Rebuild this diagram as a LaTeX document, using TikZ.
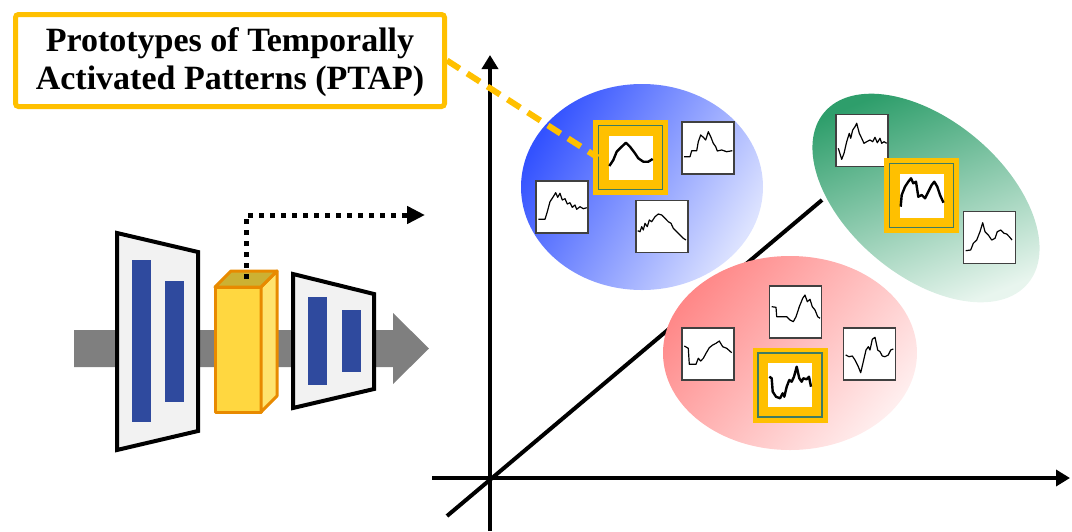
\documentclass[tikz,border=0pt]{standalone}
\usepackage{fontspec}
\setmainfont{Liberation Serif}
\usetikzlibrary{arrows.meta}

\definecolor{ptapyellow}{HTML}{FFC000}
\definecolor{barblue}{HTML}{2F4A9E}
\definecolor{flowgray}{HTML}{7F7F7F}
\definecolor{blockfill}{HTML}{F2F2F2}
\definecolor{cubefront}{HTML}{FFD740}
\definecolor{cubeside}{HTML}{FFE36E}
\definecolor{cubetopc}{HTML}{CCB133}
\definecolor{cubeedge}{HTML}{E88A00}
\definecolor{protogreen}{HTML}{3E7B63}
\definecolor{thumbedge}{HTML}{404040}
\definecolor{bluedark}{HTML}{3352FF}
\definecolor{bluelight}{HTML}{DDE3FF}
\definecolor{greendark}{HTML}{2E9E6B}
\definecolor{greenlight}{HTML}{E8F5EE}
\definecolor{reddark}{HTML}{FF8888}
\definecolor{redlight}{HTML}{FFEEEE}

\begin{document}
\begin{tikzpicture}[x=1pt,y=-1pt,
  axis/.style={line width=4pt, black},
  axisarrow/.style={axis, -{Triangle[length=14pt,width=16pt]}},
  block/.style={line width=4pt, draw=black, fill=blockfill, line join=miter},
  bar/.style={fill=barblue},
  cubeface/.style={draw=cubeedge, line width=3pt, line join=round},
  thumb/.style={draw=thumbedge, line width=1.4pt, fill=white, minimum size=52pt, inner sep=0pt},
  proto/.style={fill=ptapyellow, minimum size=75pt, inner sep=0pt,
    path picture={
      \draw[protogreen, line width=1.6pt]
        ([shift={(-32,-32)}]path picture bounding box.center) rectangle +(64,64);
      \fill[white]
        ([shift={(-22,-22)}]path picture bounding box.center) rectangle +(44,44);
    }},
  wave/.style={line width=1.2pt, black, line join=round},
  wavebold/.style={line width=2.4pt, black, line join=round},
  titlebox/.style={draw=ptapyellow, line width=5pt, fill=white, rounded corners=3pt,
    minimum width=429pt, minimum height=92pt, inner sep=0pt},
  titletext/.style={inner sep=0pt, align=center,
    font=\fontsize{34}{38}\selectfont\bfseries},
  callout/.style={draw=ptapyellow, line width=6pt, dash pattern=on 15pt off 9pt},
  featarrow/.style={line width=5pt, dash pattern=on 5pt off 6pt,
    -{Triangle[length=18pt,width=17pt]}}
]
\useasboundingbox (0,0) rectangle (1072,531);

% ---------- encoder / feature / decoder ----------
\fill[flowgray] (74,330) -- (393,330) -- (393,313) -- (429,348.5) -- (393,384)
  -- (393,367) -- (74,367) -- cycle;

\draw[block] (117,233) -- (198,252) -- (198,431) -- (117,450) -- cycle;
\fill[bar] (132,260) rectangle (151,422);
\fill[bar] (165,281) rectangle (184,402);

\draw[block] (293,274) -- (374,294) -- (374,389) -- (293,408) -- cycle;
\fill[bar] (308,297) rectangle (327,385);
\fill[bar] (342,310) rectangle (361,372);

% feature cube
\filldraw[cubeface, fill=cubefront] (215,287) rectangle (261,412);
\filldraw[cubeface, fill=cubeside] (261,287) -- (277,271) -- (277,396) -- (261,412) -- cycle;
\filldraw[cubeface, fill=cubetopc] (215,287) -- (231,271) -- (277,271) -- (261,287) -- cycle;

\coordinate (cubetop) at (246,279);
\coordinate (featout) at (425,215);
\draw[featarrow] (cubetop) |- (featout);

% ---------- embedding space ----------
\coordinate (origin) at (490,478);
\coordinate (ytop) at (490,55);
\coordinate (ybot) at (490,531);
\coordinate (xleft) at (432,478);
\coordinate (xright) at (1070,478);
\coordinate (zlow) at (447,516);
\coordinate (zhigh) at (822,200);

\draw[axis] (zlow) -- (zhigh);
\draw[axisarrow] (ybot) -- (ytop);
\draw[axisarrow] (xleft) -- (xright);

% clusters
\shade[top color=bluedark, bottom color=bluelight, shading angle=60]
  (642,187) ellipse [x radius=121, y radius=103];
\shade[top color=reddark, bottom color=redlight, shading angle=50]
  (790,353) ellipse [x radius=127, y radius=97];
\shade[top color=greendark, bottom color=greenlight, shading angle=22]
  (926,198) ellipse [x radius=133, y radius=78, rotate=-40];

% ---------- blue cluster ----------
\node[thumb] (b1) at (562,207) {};
\node[thumb] (b2) at (708,148) {};
\node[thumb] (b3) at (662,226.5) {};
\node[proto] (bp) at (630.5,157.5) {};
\draw[wave] plot coordinates {(538.3,219.3) (545,219.3) (547.3,211.7) (550,201.7) (553.3,196.7)
  (555.7,192.7) (557.7,197.3) (560,193.3) (562.3,200) (565,198.7) (567.3,204) (570,202.7)
  (572.3,207.3) (575,205) (576.7,209.3) (580,206.7) (583.3,208.7) (586.7,207.7)};
\draw[wave] plot coordinates {(684,156.7) (690,156.7) (691.7,150.7) (696.7,150.7) (698.3,141.7)
  (700.7,135) (703.3,137.3) (705.7,140) (708.3,131.7) (710.7,136.7) (713.3,143.3) (715.7,146.7)
  (717.3,151) (721.7,150) (726.7,151.7) (732.3,150.7)};
\draw[wave] plot coordinates {(637.7,230.7) (640,231.7) (641.7,226.7) (643.3,230) (645,223.3)
  (647.3,226.7) (649.3,220) (651.7,221.7) (655,216.7) (658.3,214) (661.7,215) (665,218.3)
  (668.3,221.7) (671,223.3) (673.3,228.3) (676.7,231.7) (680,235) (683.3,238.3) (686,240)};
\draw[wavebold] plot coordinates {(609.3,166) (613.3,160) (616.7,151.7) (621.7,146.7) (626,142.7)
  (630,146.7) (635,153.3) (638.3,158.3) (643.3,161.7) (648.3,161.7) (652.7,159)};

% ---------- green cluster ----------
\node[thumb] (g1) at (862,140.5) {};
\node[thumb] (g2) at (989.5,237.5) {};
\node[proto] (gp) at (921.5,195.5) {};
\draw[wave] plot coordinates {(838.3,148.3) (841.7,159.3) (844,153.3) (846.7,141.7) (849.3,133.3)
  (850.7,138.3) (852.7,130) (855,126.7) (856.7,123.3) (859.3,133.3) (861.7,138.3) (864,143.3)
  (866.7,141.7) (870,140) (872.7,141.7) (875,137.3) (877.3,142.7) (880,138.3) (881.7,143.3)
  (884,141.7) (886.7,143.3)};
\draw[wave] plot coordinates {(965.7,250.7) (970.7,250) (973.3,243.3) (976.7,240) (980,231.7)
  (982.7,222.7) (985,231.7) (988.3,235) (991.7,240) (995,238.3) (997.3,231.7) (1000.7,230)
  (1004,233.3) (1006.7,234) (1009.3,236.7) (1012,240)};
\draw[wavebold] plot coordinates {(900.7,206.7) (901.7,195) (905,186.7) (908.3,181.7) (911,178.3)
  (913.3,183.3) (916,181.7) (918.3,196.7) (921.7,195) (925,198.3) (928.3,191.7) (931.7,185)
  (934.3,181.7) (937.3,186.7) (940,195) (943.5,202.7)};

% ---------- red cluster ----------
\node[thumb] (r1) at (795.5,312) {};
\node[thumb] (r2) at (708,354) {};
\node[thumb] (r3) at (869.5,354) {};
\node[proto] (rp) at (790,385) {};
\draw[wave] plot coordinates {(771.7,306.7) (776,307.3) (776.7,316.7) (780,316.7) (786.7,316.7)
  (790,320) (793.3,321.7) (796,316.7) (799.3,306.7) (802.7,298.3) (805,295) (807.3,301.7)
  (810,299.3) (812.3,306.7) (815,310) (817.7,316.7) (820,318.3)};
\draw[wave] plot coordinates {(684.3,346) (688.3,348.3) (689.3,364.3) (691.7,364.3) (696,364.3)
  (698.3,358.3) (700.7,361) (703.3,358.3) (706,353.3) (709.3,347.7) (712.7,345) (716,343.3)
  (719.3,341) (722.7,346.7) (726.7,348.3) (731.7,352.7)};
\draw[wave] plot coordinates {(845.7,355) (849,356.7) (852.3,356) (855,360) (858.3,366.7)
  (860.7,372.7) (863.3,361.7) (866,350) (868.3,346.7) (870,350) (872.3,339.3) (875,337.3)
  (877.7,350) (880,351.7) (882.3,356) (885,356.7) (888.3,355) (890.7,350) (893.3,349)};
\draw[wavebold] plot coordinates {(769.3,376.7) (771.7,378.3) (772.7,391.7) (776,396.7) (780,398.3)
  (782.7,393.3) (784.3,396.7) (786.7,386.7) (789.3,380) (791.7,381.7) (794,376.7) (796.7,366.7)
  (799.3,378.3) (801.7,381.7) (803.3,378.3) (806.7,379.3) (809,376.7) (811,386.7)};

% ---------- callout ----------
\node[titlebox] (ptap) at (230,60.5) {};
\node[titletext] (ptaplabel) at ([yshift=-2pt]ptap.center)
  {Prototypes of Temporally\\Activated Patterns (PTAP)};
\draw[callout] (ptap.east) -- ([xshift=5pt]bp.west);

\end{tikzpicture}
\end{document}
